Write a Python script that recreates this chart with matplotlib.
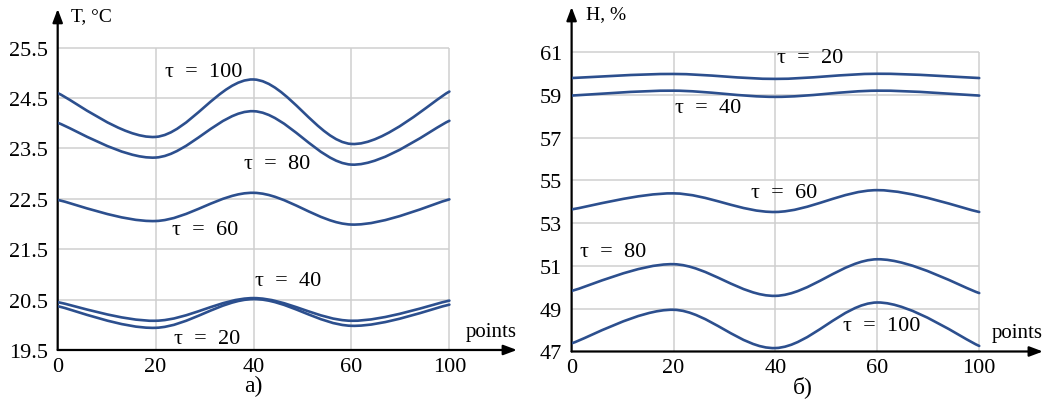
import matplotlib
matplotlib.use("Agg")
import numpy as np
from matplotlib import pyplot as plt
from matplotlib.path import Path
from matplotlib.patches import PathPatch

plt.rcParams['font.family'] = ['Liberation Serif', 'DejaVu Serif']

# x positions are equally spaced categories
x_labels = ["0", "20", "40", "60", "100"]

# left panel: temperature, T, °C
t_ticks = [19.5, 20.5, 21.5, 22.5, 23.5, 24.5, 25.5]
t_tau100 = [24.60, 23.73, 24.87, 23.59, 24.63]
t_tau80 = [24.01, 23.32, 24.24, 23.18, 24.05]
t_tau60 = [22.48, 22.06, 22.62, 21.99, 22.49]
t_tau40 = [20.45, 20.08, 20.53, 20.08, 20.48]
t_tau20 = [20.37, 19.94, 20.51, 19.98, 20.40]

# right panel: humidity, H, %
h_ticks = [47, 49, 51, 53, 55, 57, 59, 61]
h_tau20 = [59.78, 59.97, 59.74, 59.98, 59.78]
h_tau40 = [58.96, 59.19, 58.90, 59.19, 58.96]
h_tau60 = [53.64, 54.39, 53.52, 54.54, 53.52]
h_tau80 = [49.83, 51.08, 49.60, 51.31, 49.73]
h_tau100 = [47.38, 48.95, 47.16, 49.29, 47.26]

LINE = "#2c4f8e"
GRID = "#cfcfcf"


def smooth_line(ax, ys, color=LINE, lw=1.9):
    # Excel-like smoothed line: cubic bezier segments through the points
    pts = np.column_stack([np.arange(len(ys)), ys]).astype(float)
    ext = np.vstack([pts[0], pts, pts[-1]])
    verts = [tuple(pts[0])]
    codes = [Path.MOVETO]
    for i in range(len(pts) - 1):
        p0, p1, p2, p3 = ext[i], ext[i + 1], ext[i + 2], ext[i + 3]
        c1 = p1 + (p2 - p0) / 6
        c2 = p2 - (p3 - p1) / 6
        verts += [tuple(c1), tuple(c2), tuple(p2)]
        codes += [Path.CURVE4] * 3
    ax.add_patch(PathPatch(Path(verts, codes), fill=False, edgecolor=color,
                           lw=lw, capstyle='round', zorder=3))


def setup(ax, ticks, xmax, ymax, ylabel):
    n = len(x_labels) - 1
    ax.set_xlim(0, xmax)
    ax.set_ylim(ticks[0], ymax)
    for s in ax.spines.values():
        s.set_visible(False)
    ax.hlines(ticks[1:], 0, n, color=GRID, lw=1.1, zorder=1)
    ax.vlines(range(1, n + 1), ticks[0], ticks[-1], color=GRID, lw=1.1, zorder=1)
    ax.set_xticks(range(n + 1))
    ax.set_xticklabels(x_labels)
    ax.set_yticks(ticks)
    ax.set_yticklabels([f"{t:g}" for t in ticks])
    ax.tick_params(length=0, labelsize=16, pad=5)
    ax.tick_params(axis='y', pad=7)
    ax.annotate('', xy=(1, 0), xytext=(0, 0), xycoords='axes fraction',
                arrowprops=dict(arrowstyle='-|>,head_length=0.8,head_width=0.3',
                                color='black', lw=1.6, shrinkA=0, shrinkB=0))
    ax.annotate('', xy=(0, 1), xytext=(0, 0), xycoords='axes fraction',
                arrowprops=dict(arrowstyle='-|>,head_length=0.8,head_width=0.3',
                                color='black', lw=1.6, shrinkA=0, shrinkB=0))
    ax.text(0.03, 0.98, ylabel, transform=ax.transAxes, fontsize=14,
            va='center', ha='left')
    ax.text(1.0, 0.055, "points", transform=ax.transAxes, fontsize=15,
            va='center', ha='right')


fig = plt.figure(figsize=(10.45, 4.06), dpi=100)
ax1 = fig.add_axes([0.0552, 0.1355, 0.4395, 0.84])
ax2 = fig.add_axes([0.547, 0.1318, 0.451, 0.8485])

setup(ax1, t_ticks, 4.69, 26.27, "T, °C")
setup(ax2, h_ticks, 4.625, 63.1, "H, %")

for ys in [t_tau100, t_tau80, t_tau60, t_tau40, t_tau20]:
    smooth_line(ax1, ys)
for ys in [h_tau20, h_tau40, h_tau60, h_tau80, h_tau100]:
    smooth_line(ax2, ys)

lab = dict(fontsize=16, ha='center', va='center', zorder=4)
ax1.text(1.49, 25.02, "τ  =  100", **lab)
ax1.text(2.24, 23.21, "τ  =  80", **lab)
ax1.text(1.51, 21.9, "τ  =  60", **lab)
ax1.text(2.35, 20.88, "τ  =  40", **lab)
ax1.text(1.53, 19.72, "τ  =  20", **lab)

ax2.text(2.34, 60.75, "τ  =  20", **lab)
ax2.text(1.34, 58.4, "τ  =  40", **lab)
ax2.text(2.09, 54.45, "τ  =  60", **lab)
ax2.text(0.41, 51.65, "τ  =  80", **lab)
ax2.text(3.04, 48.2, "τ  =  100", **lab)

fig.text(0.242, 0.047, "а)", fontsize=17, ha='center', va='center')
fig.text(0.768, 0.047, "б)", fontsize=17, ha='center', va='center')

fig.savefig("out.png", dpi=100)
